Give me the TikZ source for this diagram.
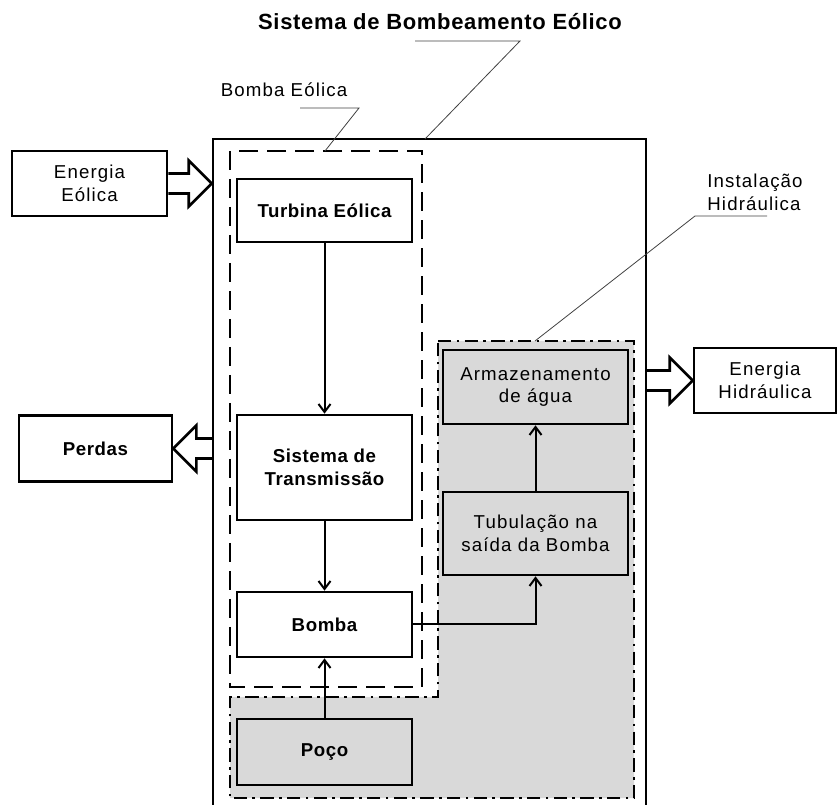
\documentclass[tikz,border=0pt]{standalone}
\usepackage{fontspec}
\setmainfont{Liberation Sans}[UprightFeatures={LetterSpace=6}, BoldFeatures={LetterSpace=3}]
\usetikzlibrary{arrows.meta,calc}
\tikzset{>={Straight Barb[length=6pt,width=9pt]}}
\definecolor{cinza}{RGB}{217,217,217}
\tikzset{
  box/.style={draw, line width=2pt, align=center, inner sep=2pt,
    font=\fontsize{14}{17}\selectfont},
  boldbox/.style={box, font=\fontsize{14}{17}\selectfont\bfseries},
  graybox/.style={box, fill=cinza},
  sysbox/.style={draw, line width=1.8pt, minimum width=324.75pt, minimum height=507pt},
  tag/.style={align=left, inner sep=0pt, font=\fontsize{14}{17}\selectfont},
  conn/.style={->, line width=1.5pt},
  leader/.style={line width=0.6pt, black!75},
  bigarrow/.style={line width=2pt, line join=miter},
  beregion/.style={line width=2pt, dash pattern=on 14pt off 7pt},
  ihregion/.style={line width=2pt, fill=cinza, dash pattern=on 10pt off 4pt on 2pt off 4pt}
}
% hollow arrow: #1 tail, #2 tip
\newcommand{\blockarrow}[2]{%
  \coordinate (ah) at ($(#2)!17.25pt!(#1)$);
  \draw[bigarrow] ($(#1)!7.5pt!90:(#2)$) -- ($(ah)!7.5pt!90:(#2)$)
    -- ($(ah)!17.25pt!90:(#2)$) -- (#2) -- ($(ah)!17.25pt!-90:(#2)$)
    -- ($(ah)!7.5pt!-90:(#2)$) -- ($(#1)!7.5pt!-90:(#2)$);
}

\begin{document}
\begin{tikzpicture}[x=0.75pt,y=-0.75pt]
  \useasboundingbox (0,0) rectangle (840,805);

  % regions
  \draw[ihregion] (438,341) -- (634,341) -- (634,798) -- (230,798) -- (230,697) -- (438,697) -- cycle;
  \draw[beregion] (230,151) rectangle (422,687);
  \node[sysbox] (sis) at (429.5,477) {};

  % labels and leaders
  \node[tag, font=\fontsize{16.5}{20}\selectfont\bfseries] (tsis) at (440,22) {Sistema de Bombeamento Eólico};
  \node[tag] (tbe) at (284,90) {Bomba Eólica};
  \node[tag] (tih) at (755,192) {Instalação\\Hidráulica};
  \draw[leader] (415,41) -- (520,41) -- (425,139);
  \draw[leader] (300,108) -- (359,108) -- (325,151);
  \draw[leader] (767,216) -- (695,216) -- (535,341);

  % outside
  \node[box, minimum width=116.25pt, minimum height=48.75pt] (eeol) at (89.5,183.5) {Energia\\Eólica};
  \node[boldbox, minimum width=114.75pt, minimum height=49.5pt] (perdas) at (95.5,448.5) {Perdas};
  \node[box, minimum width=106.5pt, minimum height=48.75pt] (ehid) at (765,380.5) {Energia\\Hidráulica};

  % bomba eolica
  \node[boldbox, minimum width=131.25pt, minimum height=47.25pt] (turb) at (324.5,210.5) {Turbina Eólica};
  \node[boldbox, minimum width=131.25pt, minimum height=78.75pt] (trans) at (324.5,467.5) {Sistema de\\Transmissão};
  \node[boldbox, minimum width=131.25pt, minimum height=48.75pt] (bomba) at (324.5,624.5) {Bomba};

  % instalacao hidraulica
  \node[graybox, font=\fontsize{14}{17}\selectfont\bfseries, minimum width=131.25pt, minimum height=49.5pt] (poco) at (324.5,752) {Poço};
  \node[graybox, minimum width=138.75pt, minimum height=55.5pt] (armaz) at (535.5,387) {Armazenamento\\de água};
  \node[graybox, minimum width=138.75pt, minimum height=62.25pt] (tubul) at (535.5,533.5) {Tubulação na\\saída da Bomba};

  \draw[conn] (turb) -- (trans);
  \draw[conn] (trans) -- (bomba);
  \draw[conn] (poco) -- (bomba);
  \draw[conn] (bomba.east) -| (tubul.south);
  \draw[conn] (tubul) -- (armaz);

  \coordinate (eeolt) at (sis.west |- eeol.east);
  \coordinate (perdt) at (sis.west |- perdas.east);
  \coordinate (ehidt) at (sis.east |- ehid.west);
  \blockarrow{eeol.east}{eeolt}
  \blockarrow{perdt}{perdas.east}
  \blockarrow{ehidt}{ehid.west}
\end{tikzpicture}
\end{document}
